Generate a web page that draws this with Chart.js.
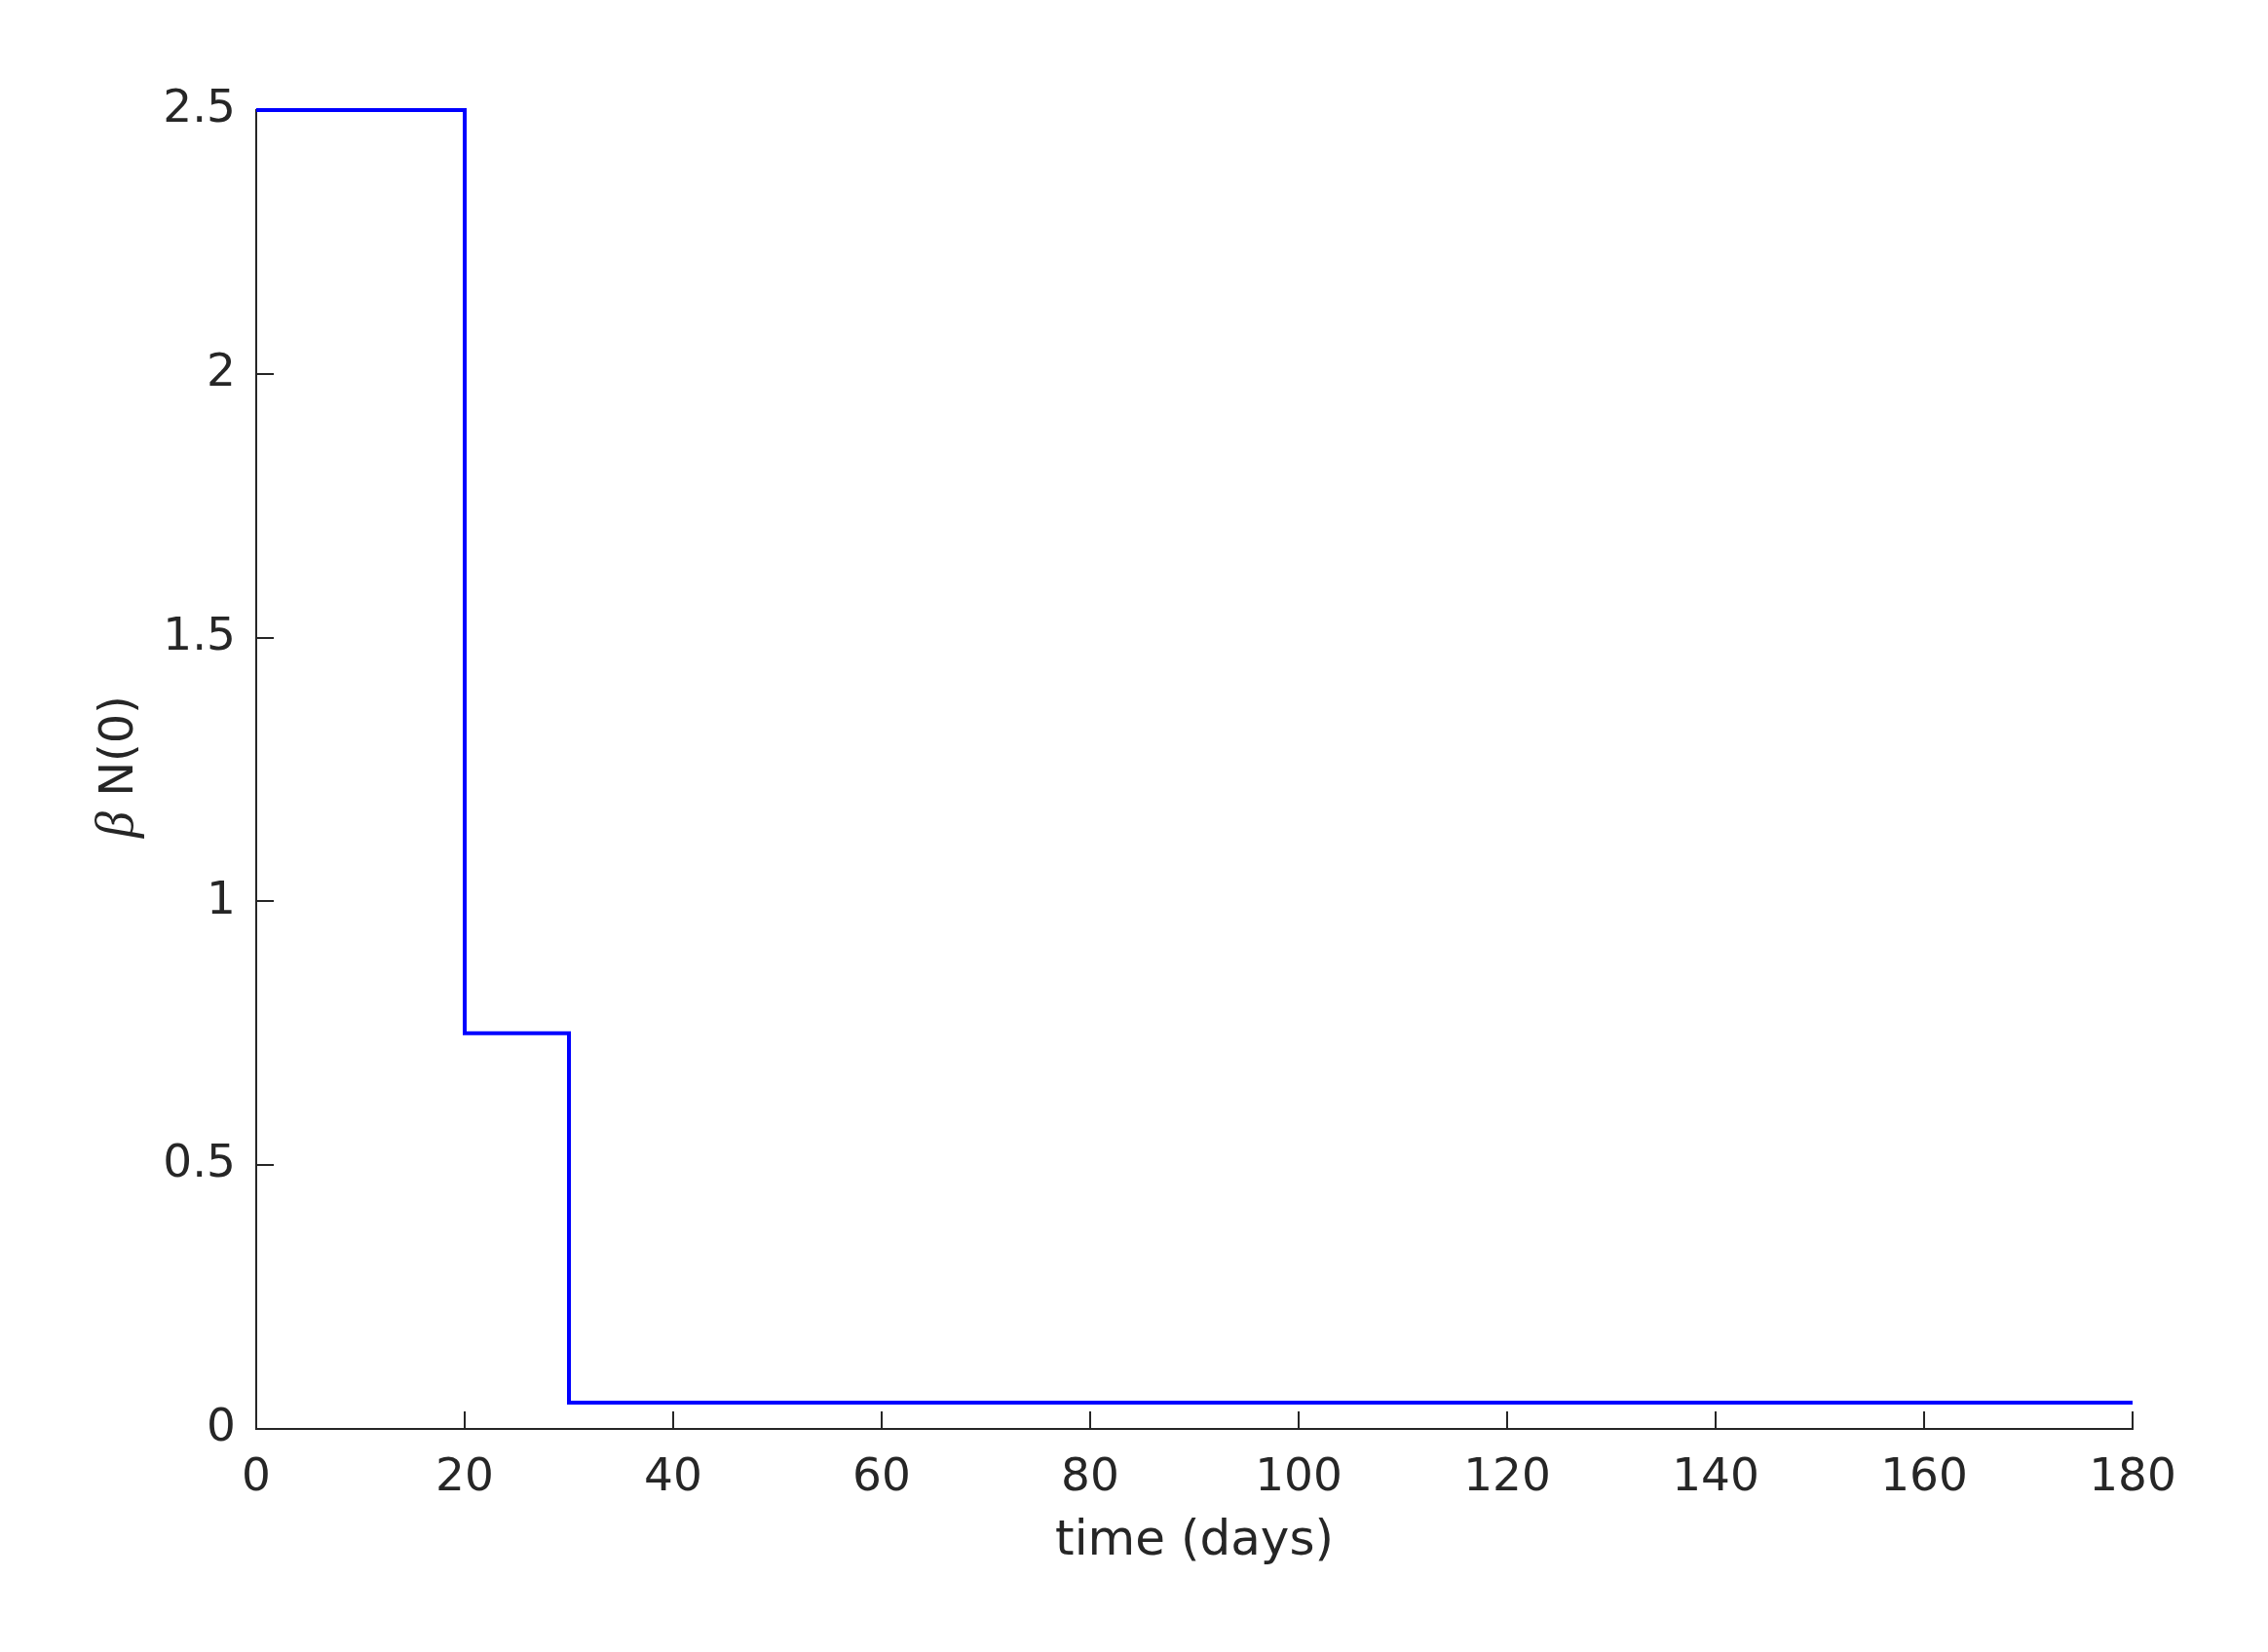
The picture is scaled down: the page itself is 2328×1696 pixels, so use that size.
<!DOCTYPE html>
<html>
<head>
<meta charset="utf-8">
<script src="https://cdn.jsdelivr.net/npm/chart.js@4/dist/chart.umd.min.js"></script>
<style>
  html, body { margin: 0; padding: 0; background: #ffffff; }
  canvas { display: block; }
</style>
</head>
<body>
<canvas id="betaChart" width="2328" height="1696"></canvas>
<script>
// step points: value holds until the next time point
const days = [0, 20, 30, 180];
const betaN0 = [2.5, 0.75, 0.05, 0.05];
const xTicks = [0, 20, 40, 60, 80, 100, 120, 140, 160, 180];
const yTicks = [0, 0.5, 1, 1.5, 2, 2.5];

const axisColor = '#262626';
const tickFont = { family: 'DejaVu Sans', size: 47 };

// MATLAB-style inward tick marks
const inwardTicks = {
  id: 'inwardTicks',
  beforeDatasetsDraw(chart) {
    const { ctx, chartArea, scales } = chart;
    const len = 18;
    ctx.save();
    ctx.strokeStyle = axisColor;
    ctx.lineWidth = 2;
    ctx.beginPath();
    xTicks.forEach(v => {
      const px = Math.round(scales.x.getPixelForValue(v));
      ctx.moveTo(px, chartArea.bottom);
      ctx.lineTo(px, chartArea.bottom - len);
    });
    yTicks.forEach(v => {
      const py = Math.round(scales.y.getPixelForValue(v));
      ctx.moveTo(chartArea.left, py);
      ctx.lineTo(chartArea.left + len, py);
    });
    ctx.stroke();
    ctx.restore();
  }
};

// y label with italic beta, rotated
const yTitle = {
  id: 'yTitle',
  afterDraw(chart) {
    const { ctx, chartArea } = chart;
    const cy = (chartArea.top + chartArea.bottom) / 2 - 3;
    const greek = 'β';
    const rest = ' N(0)';
    ctx.save();
    ctx.translate(136, cy);
    ctx.rotate(-Math.PI / 2);
    ctx.fillStyle = axisColor;
    ctx.textBaseline = 'alphabetic';
    ctx.textAlign = 'left';
    ctx.font = 'italic 54px "Liberation Serif"';
    const w1 = ctx.measureText(greek).width;
    ctx.font = '48px "DejaVu Sans"';
    const w2 = ctx.measureText(rest).width;
    const start = -(w1 + w2) / 2;
    ctx.font = 'italic 54px "Liberation Serif"';
    ctx.fillText(greek, start, 0);
    ctx.font = '48px "DejaVu Sans"';
    ctx.fillText(rest, start + w1, 0);
    ctx.restore();
  }
};

new Chart(document.getElementById('betaChart'), {
  type: 'line',
  data: {
    datasets: [{
      data: days.map((d, i) => ({ x: d, y: betaN0[i] })),
      borderColor: '#0000ff',
      borderWidth: 4,
      stepped: 'before',
      pointRadius: 0,
      fill: false,
      clip: false
    }]
  },
  options: {
    responsive: false,
    animation: false,
    layout: { padding: { left: 0, top: 113, right: 139, bottom: 0 } },
    plugins: {
      legend: { display: false },
      tooltip: { enabled: false }
    },
    scales: {
      x: {
        type: 'linear',
        min: 0,
        max: 180,
        afterFit: s => { s.height = 229; },
        afterBuildTicks: s => { s.ticks = xTicks.map(v => ({ value: v })); },
        grid: { display: false, drawTicks: false },
        border: { display: true, color: axisColor, width: 2 },
        ticks: { color: axisColor, font: tickFont, padding: 23, maxRotation: 0, autoSkip: false,
                 callback: v => String(v) },
        title: {
          display: true,
          text: 'time (days)',
          color: axisColor,
          font: { family: 'DejaVu Sans', size: 50 },
          padding: { top: 0, bottom: 83 }
        }
      },
      y: {
        min: 0,
        max: 2.5,
        afterFit: s => { s.width = 263; },
        afterBuildTicks: s => { s.ticks = yTicks.map(v => ({ value: v })); },
        grid: { display: false, drawTicks: false },
        border: { display: true, color: axisColor, width: 2 },
        ticks: { color: axisColor, font: tickFont, padding: 21, autoSkip: false,
                 callback: v => String(v) }
      }
    }
  },
  plugins: [inwardTicks, yTitle]
});
</script>
</body>
</html>
